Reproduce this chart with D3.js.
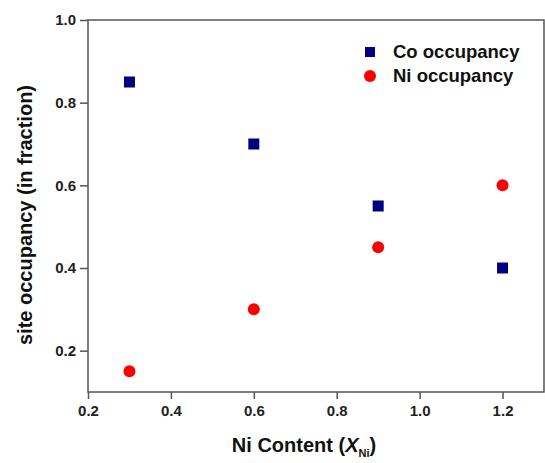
<!DOCTYPE html>
<html>
<head>
<meta charset="utf-8">
<script src="https://cdn.jsdelivr.net/npm/d3@7"></script>
<style>
  body { margin: 0; background: #fff; }
  text { font-family: Arial, "Liberation Sans", sans-serif; font-weight: bold; }
</style>
</head>
<body>
<div id="chart"></div>
<script>
var niContent = [0.3, 0.6, 0.9, 1.2];
var coOccupancy = [0.85, 0.70, 0.55, 0.40];
var niOccupancy = [0.15, 0.30, 0.45, 0.60];
var xTicks = [0.2, 0.4, 0.6, 0.8, 1.0, 1.2];
var yTicks = [0.2, 0.4, 0.6, 0.8, 1.0];

var margin = {top: 20, right: 1, bottom: 71, left: 88};
var width = 545 - margin.left - margin.right;
var height = 463 - margin.top - margin.bottom;

var svg = d3.select("#chart")
  .append("svg")
    .attr("width", 545)
    .attr("height", 463)
  .append("g")
    .attr("transform", "translate(" + margin.left + "," + margin.top + ")");

var xScale = d3.scaleLinear().domain([0.2, 1.3]).range([0, width]);
var yScale = d3.scaleLinear().domain([0.1, 1.0]).range([height, 0]);

var axisColor = "#555";

// frame
svg.append("rect")
  .attr("width", width)
  .attr("height", height)
  .attr("fill", "none")
  .attr("stroke", axisColor)
  .attr("stroke-width", 1.5);

var xAxis = svg.append("g")
  .attr("transform", "translate(0," + height + ")")
  .call(d3.axisBottom(xScale).tickValues(xTicks).tickFormat(d3.format(".1f")).tickSize(7).tickPadding(6));

var yAxis = svg.append("g")
  .call(d3.axisLeft(yScale).tickValues(yTicks).tickFormat(d3.format(".1f")).tickSize(8).tickPadding(4));

[xAxis, yAxis].forEach(function(ax) {
  ax.select(".domain").remove();
  ax.selectAll("line").attr("stroke", axisColor).attr("stroke-width", 1.5);
  ax.selectAll("text").attr("fill", "#222").style("font-size", "15px").style("font-weight", "bold");
});

// axis titles
var xTitle = svg.append("text")
  .attr("x", 304 - margin.left)
  .attr("y", 452 - margin.top)
  .attr("text-anchor", "middle")
  .attr("fill", "#111")
  .style("font-size", "20px");
xTitle.append("tspan").text("Ni Content (");
xTitle.append("tspan").style("font-style", "italic").text("X");
xTitle.append("tspan").attr("dy", 5).style("font-size", "11px").text("Ni");
xTitle.append("tspan").attr("dy", -5).text(")");

svg.append("text")
  .attr("transform", "translate(" + (32 - margin.left) + "," + (215 - margin.top) + ") rotate(-90)")
  .attr("text-anchor", "middle")
  .attr("fill", "#111")
  .style("font-size", "20px")
  .text("site occupancy (in fraction)");

// points
var coData = niContent.map(function(x, i) { return {x: x, y: coOccupancy[i]}; });
var niData = niContent.map(function(x, i) { return {x: x, y: niOccupancy[i]}; });

svg.selectAll(".co")
  .data(coData)
  .enter().append("rect")
  .attr("class", "co")
  .attr("x", function(d) { return xScale(d.x) - 5.5; })
  .attr("y", function(d) { return yScale(d.y) - 5.5; })
  .attr("width", 11)
  .attr("height", 11)
  .attr("fill", "#000080");

svg.selectAll(".ni")
  .data(niData)
  .enter().append("circle")
  .attr("class", "ni")
  .attr("cx", function(d) { return xScale(d.x); })
  .attr("cy", function(d) { return yScale(d.y); })
  .attr("r", 6)
  .attr("fill", "#ff0000");

// legend
var legend = svg.append("g").attr("transform", "translate(" + (370 - margin.left) + "," + (52 - margin.top) + ")");
legend.append("rect").attr("x", -5).attr("y", -5).attr("width", 10).attr("height", 10).attr("fill", "#000080");
legend.append("text").attr("x", 23).attr("y", 6).style("font-size", "18.5px").attr("fill", "#111").text("Co occupancy");
legend.append("circle").attr("cx", 0).attr("cy", 24).attr("r", 6).attr("fill", "#ff0000");
legend.append("text").attr("x", 23).attr("y", 30).style("font-size", "18.5px").attr("fill", "#111").text("Ni occupancy");
</script>
</body>
</html>
